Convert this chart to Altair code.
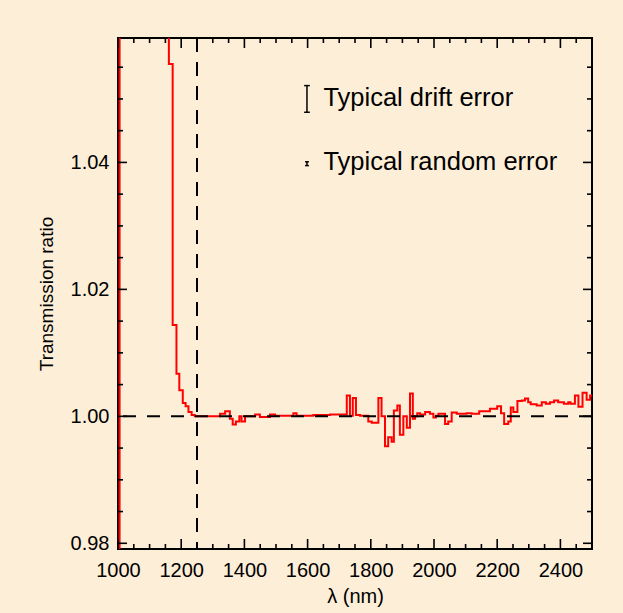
import altair as alt
import pandas as pd

# ---- data ----
# step edges (nm) and transmission ratio held from that edge to the next
edges = [1000, 1005, 1161, 1173, 1185, 1194, 1205, 1214, 1223, 1233, 1243,
         1323, 1339, 1354, 1363, 1373, 1384, 1391, 1402, 1434, 1449, 1481,
         1497, 1555, 1565, 1618, 1671, 1724, 1734, 1743, 1753, 1766, 1792,
         1803, 1824, 1834, 1845, 1855, 1866, 1873, 1884, 1892, 1903, 1914,
         1924, 1933, 1940, 1947, 1956, 1972, 1987, 1998, 2006, 2014, 2035,
         2045, 2056, 2072, 2103, 2119, 2143, 2177, 2200, 2212, 2222, 2235,
         2243, 2251, 2264, 2278, 2288, 2298, 2306, 2325, 2341, 2354, 2367,
         2380, 2393, 2411, 2425, 2432, 2446, 2457, 2470, 2483, 2494, 2500]
ratio = [0.950, 1.300, 1.0555, 1.0144, 1.0067, 1.0041, 1.0021, 1.0016, 1.0007, 1.0002, 1.0000,
         1.0004, 1.0008, 0.9996, 0.9987, 0.9992, 1.0000, 0.9992, 1.0000, 1.0003, 0.9999, 1.0003,
         1.0001, 1.0005, 1.0001, 1.0002, 1.0003, 1.0033, 1.0001, 1.0029, 1.0002, 1.0001, 0.9992,
         0.9990, 1.0029, 1.0000, 0.9953, 0.9967, 0.9960, 1.0009, 1.0017, 0.9971, 1.0000, 0.9982,
         1.0036, 0.9996, 1.0000, 1.0005, 1.0003, 1.0007, 1.0004, 0.9998, 1.0001, 1.0004, 0.9988,
         0.9992, 1.0006, 1.0004, 1.0005, 1.0004, 1.0008, 1.0012, 1.0016, 1.0005, 0.9988, 0.9992,
         1.0014, 1.0007, 1.0024, 1.0025, 1.0028, 1.0022, 1.0019, 1.0017, 1.0022, 1.0020, 1.0022,
         1.0025, 1.0022, 1.0020, 1.0022, 1.0020, 1.0033, 1.0015, 1.0037, 1.0026, 1.0033, 1.0033]

x_major = [1000, 1200, 1400, 1600, 1800, 2000, 2200, 2400]
x_minor = [1050, 1100, 1150, 1250, 1300, 1350, 1450, 1500, 1550, 1650, 1700, 1750,
           1850, 1900, 1950, 2050, 2100, 2150, 2250, 2300, 2350, 2450]
y_major = [0.98, 1.00, 1.02, 1.04]
y_minor = [0.985, 0.99, 0.995, 1.005, 1.01, 1.015, 1.025, 1.03, 1.035, 1.045, 1.05, 1.055]

cutoff_nm = [1250]
unity = [1.0]

legend_labels = ["Typical drift error", "Typical random error"]
legend_bar_x = [1598, 1598]
legend_center = [1.0500, 1.0398]
legend_half = [0.0021, 0.0003]
legend_cap = [9, 6]
legend_text_x = [1650, 1650]
legend_text_y = [1.0489, 1.0388]

X_DOMAIN = [1000, 2500]
Y_DOMAIN = [0.9791, 1.0596]
W, H = 474, 511
BG = "#FDEED7"
FONT = "Liberation Sans"

xs = alt.Scale(domain=X_DOMAIN, nice=False, zero=False)
ys = alt.Scale(domain=Y_DOMAIN, nice=False, zero=False)

spec = pd.DataFrame({"nm": edges, "ratio": ratio})

base_x = alt.X("nm:Q", scale=xs,
               axis=alt.Axis(values=x_major, format="d", ticks=False, domain=False, grid=False,
                             labelFlush=False, labelOverlap=False, labelPadding=11,
                             labelFontSize=20, labelFont=FONT, labelColor="black",
                             title="λ (nm)", titleFont=FONT, titleFontSize=20,
                             titleFontWeight="normal", titleColor="black", titlePadding=6))
base_y = alt.Y("ratio:Q", scale=ys,
               axis=alt.Axis(values=y_major, format=".2f", ticks=False, domain=False, grid=False,
                             labelFlush=False, labelOverlap=False, labelPadding=9,
                             labelFontSize=20, labelFont=FONT, labelColor="black",
                             title="Transmission ratio", titleFont=FONT, titleFontSize=19,
                             titleFontWeight="normal", titleColor="black", titlePadding=14))

line = alt.Chart(spec).mark_line(interpolate="step-after", color="#FF0000",
                                 strokeWidth=2, clip=True).encode(x=base_x, y=base_y)

hline = alt.Chart(pd.DataFrame({"v": unity})).mark_rule(
    color="black", strokeWidth=2, strokeDash=[13, 11]).encode(y=alt.Y("v:Q", scale=ys))
vline = alt.Chart(pd.DataFrame({"v": cutoff_nm})).mark_rule(
    color="black", strokeWidth=2, strokeDash=[14, 10]).encode(x=alt.X("v:Q", scale=xs))

# inward ticks on all four sides
def xticks(vals, length):
    d = pd.DataFrame({"t": vals})
    bot = alt.Chart(d).mark_rule(color="black", strokeWidth=1.6).encode(
        x=alt.X("t:Q", scale=xs), y=alt.value(H), y2=alt.value(H - length))
    top = alt.Chart(d).mark_rule(color="black", strokeWidth=1.6).encode(
        x=alt.X("t:Q", scale=xs), y=alt.value(0), y2=alt.value(length))
    return [bot, top]

def yticks(vals, length):
    d = pd.DataFrame({"t": vals})
    left = alt.Chart(d).mark_rule(color="black", strokeWidth=1.6).encode(
        y=alt.Y("t:Q", scale=ys), x=alt.value(0), x2=alt.value(length))
    right = alt.Chart(d).mark_rule(color="black", strokeWidth=1.6).encode(
        y=alt.Y("t:Q", scale=ys), x=alt.value(W), x2=alt.value(W - length))
    return [left, right]

ticks = xticks(x_major, 10) + xticks(x_minor, 5) + yticks(y_major, 9) + yticks(y_minor, 5)

leg = pd.DataFrame({
    "label": legend_labels,
    "bx": legend_bar_x,
    "lo": [c - h for c, h in zip(legend_center, legend_half)],
    "hi": [c + h for c, h in zip(legend_center, legend_half)],
    "cl": [b - c for b, c in zip(legend_bar_x, legend_cap)],
    "cr": [b + c for b, c in zip(legend_bar_x, legend_cap)],
    "tx": legend_text_x,
    "ty": legend_text_y,
})
err_v = alt.Chart(leg).mark_rule(color="black", strokeWidth=1.5).encode(
    x=alt.X("bx:Q", scale=xs), y=alt.Y("lo:Q", scale=ys), y2="hi:Q")
cap_lo = alt.Chart(leg).mark_rule(color="black", strokeWidth=1.5).encode(
    x=alt.X("cl:Q", scale=xs), x2="cr:Q", y=alt.Y("lo:Q", scale=ys))
cap_hi = alt.Chart(leg).mark_rule(color="black", strokeWidth=1.5).encode(
    x=alt.X("cl:Q", scale=xs), x2="cr:Q", y=alt.Y("hi:Q", scale=ys))
leg_text = alt.Chart(leg).mark_text(align="left", baseline="alphabetic", fontSize=25.5,
                                    font=FONT, color="black").encode(
    x=alt.X("tx:Q", scale=xs), y=alt.Y("ty:Q", scale=ys), text="label:N")

chart = alt.layer(line, hline, vline, *ticks, err_v, cap_lo, cap_hi, leg_text).properties(
    width=W, height=H,
    background=BG,
    padding={"left": 118, "top": 38, "right": 31, "bottom": 64},
    autosize=alt.AutoSizeParams(type="none"),
).configure_view(stroke="black", strokeWidth=2, fill=BG)

chart.save("out.html", embed_options={"renderer": "svg", "actions": False})
